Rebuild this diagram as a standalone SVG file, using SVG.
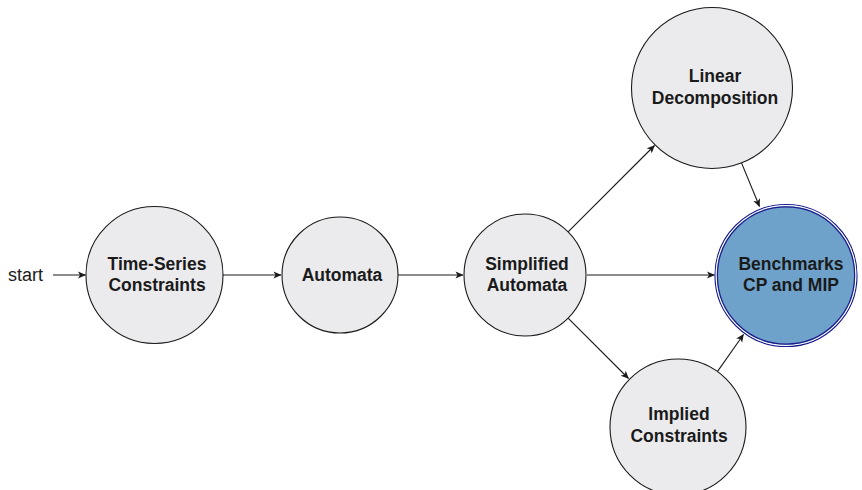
<svg xmlns="http://www.w3.org/2000/svg" width="862" height="490" viewBox="0 0 862 490">
  <style>
    .node { fill: #ebebee; stroke: #1a1a1a; stroke-width: 1.1; }
    .lbl { font-family: "Liberation Sans", Arial, sans-serif; font-weight: bold; font-size: 17.5px; fill: #1a1a1a; text-anchor: middle; }
    .plain { font-family: "Liberation Sans", Arial, sans-serif; font-size: 18px; fill: #1a1a1a; }
    .edge { fill: none; stroke: #1a1a1a; stroke-width: 1.1; marker-end: url(#arrow); }
    .final-outer { fill: #6fa2cb; stroke: #1c1c8c; stroke-width: 1.2; }
    .final-gap { fill: none; stroke: #ffffff; stroke-width: 1.2; }
    .final-inner { fill: #6fa2cb; stroke: #1c1c8c; stroke-width: 1.2; }
  </style>
  <defs>
    <marker id="arrow" viewBox="-8 -4 9 8" refX="0" refY="0" markerWidth="9" markerHeight="8" markerUnits="userSpaceOnUse" orient="auto">
      <path d="M0.5,0 L-7.5,-3.6 L-5.5,0 L-7.5,3.6 Z" fill="#1a1a1a"/>
    </marker>
  </defs>
  <rect width="862" height="490" fill="#ffffff"/>

  <g id="connectors">
    <line class="edge" x1="53" y1="275" x2="85.5" y2="275"/>
    <line class="edge" x1="223" y1="275" x2="281" y2="275"/>
    <line class="edge" x1="398" y1="275" x2="463" y2="275"/>
    <line class="edge" x1="587" y1="275" x2="714.5" y2="275"/>
    <line class="edge" x1="568.1" y1="231.9" x2="654.5" y2="145.5"/>
    <line class="edge" x1="568.1" y1="318.1" x2="628.5" y2="378.5"/>
    <line class="edge" x1="741.5" y1="162.9" x2="759.5" y2="206.5"/>
    <line class="edge" x1="717.4" y1="371.6" x2="743.5" y2="334.5"/>
  </g>

  <text class="plain" x="8" y="281">start</text>

  <g id="time-series">
    <circle class="node" cx="154.5" cy="275" r="68.5"/>
    <text class="lbl" x="157" y="269.5">Time-Series</text>
    <text class="lbl" x="157" y="291">Constraints</text>
  </g>

  <g id="automata">
    <circle class="node" cx="340" cy="275" r="58"/>
    <text class="lbl" x="342" y="281">Automata</text>
  </g>

  <g id="simplified">
    <circle class="node" cx="525" cy="275" r="61"/>
    <text class="lbl" x="527" y="269.5">Simplified</text>
    <text class="lbl" x="527" y="291">Automata</text>
  </g>

  <g id="linear">
    <circle class="node" cx="712" cy="88" r="80.5"/>
    <text class="lbl" x="715" y="82">Linear</text>
    <text class="lbl" x="715" y="104">Decomposition</text>
  </g>

  <g id="benchmarks">
    <circle class="final-outer" cx="786" cy="275.5" r="71"/>
    <circle class="final-gap" cx="786" cy="275.5" r="69.8"/>
    <circle class="final-inner" cx="786" cy="275.5" r="68.6"/>
    <text class="lbl" x="791" y="269.5">Benchmarks</text>
    <text class="lbl" x="791" y="291">CP and MIP</text>
  </g>

  <g id="implied">
    <circle class="node" cx="678" cy="427" r="68"/>
    <text class="lbl" x="679" y="420">Implied</text>
    <text class="lbl" x="679" y="442">Constraints</text>
  </g>
</svg>
